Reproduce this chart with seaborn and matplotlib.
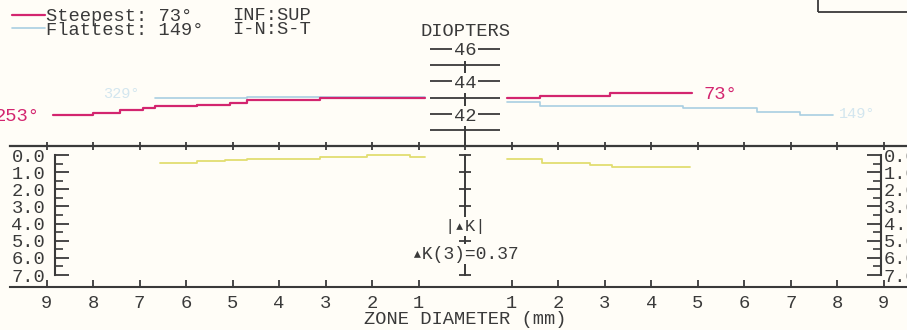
import matplotlib
matplotlib.use("Agg")
import numpy as np
import matplotlib.pyplot as plt
from matplotlib.ticker import FixedLocator, FuncFormatter
from matplotlib.patches import Rectangle
import seaborn as sns

# ---------------- data ----------------
# zone diameter in mm: left half negative (drawn mirrored), right half positive
steep_left_mm = [-8.86, -8.0, -7.42, -6.92, -6.67, -5.76, -5.05, -4.69, -3.12, -0.86]
steep_left_D = [41.94, 42.09, 42.25, 42.36, 42.50, 42.56, 42.70, 42.87, 43.01, 43.01]
steep_right_mm = [0.90, 1.61, 3.12, 4.88]
steep_right_D = [43.01, 43.11, 43.28, 43.28]

flat_left_mm = [-6.67, -4.69, -0.86]
flat_left_D = [42.97, 43.07, 43.07]
flat_right_mm = [0.90, 1.61, 4.69, 6.28, 7.20, 7.91]
flat_right_D = [42.76, 42.50, 42.39, 42.10, 41.94, 41.94]

dk_left_mm = [-6.56, -5.76, -5.16, -4.69, -3.12, -2.11, -1.18, -0.86]
dk_left = [0.48, 0.33, 0.29, 0.25, 0.13, 0.02, 0.13, 0.13]
dk_right_mm = [0.90, 1.66, 2.69, 3.16, 4.84]
dk_right = [0.25, 0.48, 0.58, 0.72, 0.72]

zone_ticks = [-9, -8, -7, -6, -5, -4, -3, -2, -1, 0, 1, 2, 3, 4, 5, 6, 7, 8, 9]
zone_label_ticks = [-9, -8, -7, -6, -5, -4, -3, -2, -1, 1, 2, 3, 4, 5, 6, 7, 8, 9]
diopter_ticks = [41, 42, 43, 44, 45, 46]
diopter_labels = [42, 44, 46]
dk_ticks = [0, 1, 2, 3, 4, 5, 6, 7]
dk_minor = [0.5, 1.5, 2.5, 3.5, 4.5, 5.5, 6.5]

steep_label = "Steepest: 73°"
flat_label = "Flattest: 149°"
steep_left_angle, steep_right_angle = "253°", "73°"
flat_left_angle, flat_right_angle = "329°", "149°"
dk_title = "|▴K|"
dk_value = "▴K(3)=0.37"

# ---------------- style ----------------
sns.set_theme(style="white")
plt.rcParams['font.family'] = ['Liberation Mono', 'DejaVu Sans Mono', 'DejaVu Sans']

BG = '#fffdf7'
INK = '#3a3a3a'
MAGENTA = '#d3256f'
BLUE = '#a9cfe2'
FAINT = '#d3e6ef'
YELLOW = '#e2dd70'
FS = 13.5
W, H = 907, 330

fig = plt.figure(figsize=(9.07, 3.30), dpi=100, facecolor=BG)
ax_top = fig.add_axes([0, 184 / H, 1, 146 / H])
ax_bot = fig.add_axes([0, 43 / H, 1, 141 / H])
for ax in (ax_top, ax_bot):
    ax.set_facecolor('none')
    ax.set_xlim(-10, 9.5)
ax_top.set_ylim(40.04, 49.0)
ax_bot.set_ylim(7.70, -0.525)

# ---------------- curves ----------------
def step(ax, x, y, color, lw, label=None):
    sns.lineplot(x=x, y=y, ax=ax, color=color, lw=lw, drawstyle='steps-post',
                 estimator=None, sort=False, legend=False, label=label)
    return ax.lines[-1]

h_flat = step(ax_top, flat_left_mm, flat_left_D, BLUE, 1.2, flat_label)
step(ax_top, flat_right_mm, flat_right_D, BLUE, 1.2)
h_steep = step(ax_top, steep_left_mm, steep_left_D, MAGENTA, 1.6, steep_label)
step(ax_top, steep_right_mm, steep_right_D, MAGENTA, 1.6)
step(ax_bot, dk_left_mm, dk_left, YELLOW, 1.3)
step(ax_bot, dk_right_mm, dk_right, YELLOW, 1.3)

# ---------------- top panel axes ----------------
for s in ('top', 'left', 'right'):
    ax_top.spines[s].set_visible(False)
ax_top.spines['bottom'].set_bounds(-9.78, 9.5)
ax_top.spines['bottom'].set_color(INK)
ax_top.spines['bottom'].set_linewidth(1.6)
ax_top.xaxis.set_major_locator(FixedLocator(zone_ticks))
ax_top.tick_params(axis='x', direction='inout', length=6, width=1.3, color=INK,
                   bottom=True, labelbottom=False)
ax_top.set_yticks([])
ax_top.set_xlabel('')
ax_top.set_ylabel('')

# central diopter scale
ax_d = ax_top.twinx()
ax_d.set_ylim(ax_top.get_ylim())
for s in ('top', 'left', 'bottom'):
    ax_d.spines[s].set_visible(False)
ax_d.spines['right'].set_position(('data', 0))
ax_d.spines['right'].set_bounds(40.04, 46)
ax_d.spines['right'].set_color(INK)
ax_d.spines['right'].set_linewidth(1.4)
ax_d.yaxis.set_major_locator(FixedLocator(diopter_ticks))
ax_d.tick_params(axis='y', direction='inout', length=50, width=1.3, color=INK,
                 right=True, labelright=False)
for d in diopter_labels:
    ax_d.text(0, d, str(d), ha='center', va='center_baseline', fontsize=FS, color=INK,
              bbox=dict(boxstyle='square,pad=0.08', fc=BG, ec='none'), zorder=6)
ax_d.text(0, 47.2, "DIOPTERS", ha='center', va='center_baseline', fontsize=FS, color=INK)

# angle labels
ax_top.text(-9.14, 42.0, steep_left_angle, ha='right', va='center_baseline',
            fontsize=FS, color=MAGENTA)
ax_top.text(5.12, 43.35, steep_right_angle, ha='left', va='center_baseline',
            fontsize=FS, color=MAGENTA)
ax_top.text(-7.4, 43.35, flat_left_angle, ha='center', va='center_baseline',
            fontsize=11, color=FAINT)
ax_top.text(8.43, 42.1, flat_right_angle, ha='center', va='center_baseline',
            fontsize=11, color=FAINT)

# legend
leg = ax_top.legend(handles=[h_steep, h_flat], labels=[steep_label, flat_label],
                    loc='upper left', bbox_to_anchor=(12 / W, 1 - 8 / H),
                    bbox_transform=fig.transFigure, frameon=False,
                    handlelength=1.75, handletextpad=0.05, labelspacing=-0.19,
                    borderpad=0, borderaxespad=0, fontsize=FS)
for t in leg.get_texts():
    t.set_color(INK)
fig.text(232 / W, 1 - 14 / H, "INF:SUP", ha='left', va='center_baseline',
         fontsize=FS, color=INK)
fig.text(232 / W, 1 - 27 / H, "I-N:S-T", ha='left', va='center_baseline',
         fontsize=FS, color=INK)

# top-right box
fig.patches.append(Rectangle((818 / W, 318 / H), 100 / W, 20 / H,
                             transform=fig.transFigure, fill=False,
                             edgecolor=INK, lw=1.3, clip_on=False))

# ---------------- bottom panel axes ----------------
ax_bot.spines['top'].set_visible(False)
ax_bot.spines['right'].set_visible(False)
ax_bot.spines['bottom'].set_bounds(-9.78, 9.5)
ax_bot.spines['left'].set_position(('data', -8.82))
ax_bot.spines['left'].set_bounds(0, 7)
for s in ('bottom', 'left'):
    ax_bot.spines[s].set_color(INK)
    ax_bot.spines[s].set_linewidth(1.5)
ax_bot.xaxis.set_major_locator(FixedLocator(zone_label_ticks))
ax_bot.xaxis.set_major_formatter(FuncFormatter(lambda v, p: f"{abs(int(round(v)))}"))
ax_bot.tick_params(axis='x', direction='in', length=5, width=1.3, color=INK,
                   labelsize=FS, labelcolor=INK, pad=6, bottom=True)
ax_bot.yaxis.set_major_locator(FixedLocator(dk_ticks))
ax_bot.yaxis.set_minor_locator(FixedLocator(dk_minor))
ax_bot.yaxis.set_major_formatter(FuncFormatter(lambda v, p: f"{v:.1f}"))
ax_bot.tick_params(axis='y', which='major', direction='in', length=10, width=1.3,
                   color=INK, labelsize=FS, labelcolor=INK, pad=7, left=True)
ax_bot.tick_params(axis='y', which='minor', direction='in', length=6, width=1.2,
                   color=INK, left=True)
ax_bot.set_xlabel("ZONE DIAMETER (mm)", fontsize=FS, color=INK)
ax_bot.xaxis.set_label_coords(465 / W, -0.17)
ax_bot.set_ylabel('')

# right-hand scale
ax_r = ax_bot.twinx()
ax_r.set_ylim(ax_bot.get_ylim())
for s in ('top', 'left', 'bottom'):
    ax_r.spines[s].set_visible(False)
ax_r.spines['right'].set_position(('data', 8.95))
ax_r.spines['right'].set_bounds(0, 7)
ax_r.spines['right'].set_color(INK)
ax_r.spines['right'].set_linewidth(1.5)
ax_r.yaxis.set_major_locator(FixedLocator(dk_ticks))
ax_r.yaxis.set_minor_locator(FixedLocator(dk_minor))
ax_r.yaxis.set_major_formatter(FuncFormatter(lambda v, p: f"{v:.1f}"))
ax_r.tick_params(axis='y', which='major', direction='in', length=10, width=1.3,
                 color=INK, labelsize=FS, labelcolor=INK, pad=1.5)
ax_r.tick_params(axis='y', which='minor', direction='in', length=6, width=1.2, color=INK)

# central |dK| scale
ax_c = ax_bot.twinx()
ax_c.set_ylim(ax_bot.get_ylim())
for s in ('top', 'left', 'bottom'):
    ax_c.spines[s].set_visible(False)
ax_c.spines['right'].set_position(('data', 0))
ax_c.spines['right'].set_bounds(0, 7)
ax_c.spines['right'].set_color(INK)
ax_c.spines['right'].set_linewidth(1.4)
ax_c.yaxis.set_major_locator(FixedLocator(dk_ticks))
ax_c.tick_params(axis='y', direction='inout', length=9, width=1.3, color=INK,
                 labelright=False)
ax_c.text(0, 4.08, dk_title, ha='center', va='center_baseline', fontsize=FS - 1,
          color=INK, bbox=dict(boxstyle='square,pad=0.1', fc=BG, ec='none'), zorder=6)
ax_c.text(0, 5.66, dk_value, ha='center', va='center_baseline', fontsize=FS - 0.5,
          color=INK, bbox=dict(boxstyle='square,pad=0.1', fc=BG, ec='none'), zorder=6)

fig.savefig("out.png", dpi=100, facecolor=BG)
